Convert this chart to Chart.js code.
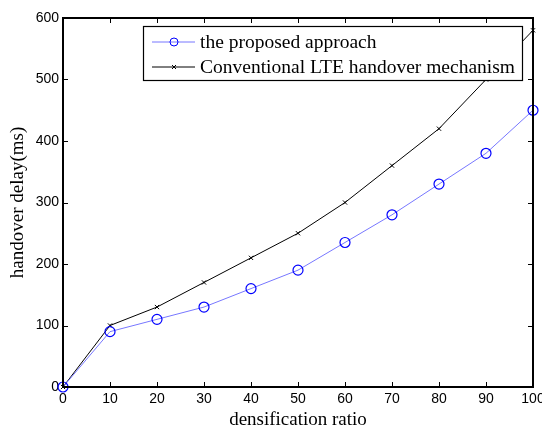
<!DOCTYPE html>
<html>
<head>
<meta charset="utf-8">
<script src="https://cdn.jsdelivr.net/npm/chart.js@4/dist/chart.umd.min.js"></script>
<style>
  body { margin: 0; background: #fff; }
  #wrap { width: 542px; height: 430px; }
</style>
</head>
<body>
<div id="wrap"><canvas id="chart" width="542" height="430"></canvas></div>
<script>
const ratios = [0, 10, 20, 30, 40, 50, 60, 70, 80, 90, 100];
const proposed = [0, 90, 110, 130, 160, 190, 235, 280, 330, 380, 450];
const conventional = [0, 100, 130, 170, 210, 250, 300, 360, 420, 500, 580];
const seriesNames = ['the proposed approach', 'Conventional LTE handover mechanism'];

// matlab-ish box, inward ticks and legend
const boxPlugin = {
    id: 'box',
    afterDraw(chart) {
        const ctx = chart.ctx;
        const a = chart.chartArea;
        const xs = chart.scales.x, ys = chart.scales.y;
        ctx.save();
        ctx.strokeStyle = '#000';
        ctx.lineWidth = 1;
        ctx.beginPath();
        xs.ticks.forEach(t => {
            const x = Math.round(xs.getPixelForValue(t.value)) + 0.5;
            ctx.moveTo(x, a.bottom); ctx.lineTo(x, a.bottom - 5);
            ctx.moveTo(x, a.top); ctx.lineTo(x, a.top + 5);
        });
        ys.ticks.forEach(t => {
            const y = Math.round(ys.getPixelForValue(t.value)) + 0.5;
            ctx.moveTo(a.left, y); ctx.lineTo(a.left + 5, y);
            ctx.moveTo(a.right, y); ctx.lineTo(a.right - 5, y);
        });
        ctx.stroke();
        ctx.lineWidth = 2;
        ctx.strokeRect(a.left, a.top, a.right - a.left, a.bottom - a.top);

        // legend
        const lx = 143, ly = 26, lw = 379, lh = 54;
        ctx.fillStyle = '#fff';
        ctx.fillRect(lx, ly, lw, lh);
        ctx.lineWidth = 1.2;
        ctx.strokeRect(lx + 0.5, ly + 0.5, lw, lh);
        ctx.font = '19.5px "Liberation Serif", "Times New Roman", serif';
        ctx.textBaseline = 'middle';
        chart.data.datasets.forEach((ds, i) => {
            const y = ly + 16 + i * 25;
            ctx.strokeStyle = ds.borderColor;
            ctx.lineWidth = 1;
            ctx.beginPath();
            ctx.moveTo(152, y); ctx.lineTo(195, y);
            ctx.stroke();
            ctx.strokeStyle = ds.pointBorderColor;
            ctx.beginPath();
            if (i === 0) {
                ctx.arc(174, y, 4, 0, Math.PI * 2);
            } else {
                ctx.moveTo(172, y - 2); ctx.lineTo(176, y + 2);
                ctx.moveTo(172, y + 2); ctx.lineTo(176, y - 2);
            }
            ctx.stroke();
            ctx.fillStyle = '#000';
            ctx.fillText(ds.label, 200, y + 1);
        });
        ctx.restore();
    }
};

const ctx = document.getElementById('chart').getContext('2d');
const chart = new Chart(ctx, {
    type: 'line',
    data: {
        datasets: [
            {
                label: seriesNames[0],
                data: ratios.map((r, i) => ({ x: r, y: proposed[i] })),
                borderColor: '#7777ff',
                borderWidth: 1,
                pointStyle: 'circle',
                pointRadius: 5,
                pointBorderColor: '#0000ff',
                pointBackgroundColor: 'rgba(0,0,0,0)',
                pointBorderWidth: 1.2,
                tension: 0
            },
            {
                label: seriesNames[1],
                data: ratios.map((r, i) => ({ x: r, y: conventional[i] })),
                borderColor: '#000',
                borderWidth: 1,
                pointStyle: 'crossRot',
                pointRadius: 3,
                pointBorderColor: '#000',
                pointBorderWidth: 1,
                tension: 0
            }
        ]
    },
    options: {
        responsive: false,
        animation: false,
        clip: false,
        layout: { padding: { left: 0, right: 9, top: 18, bottom: 0 } },
        plugins: { legend: { display: false }, tooltip: { enabled: false } },
        scales: {
            x: {
                type: 'linear', min: 0, max: 100,
                grid: { display: false, drawTicks: false },
                border: { display: false },
                ticks: { stepSize: 10, color: '#000', padding: 4, maxRotation: 0,
                    font: { family: '"Liberation Sans", Arial, sans-serif', size: 14 } },
                title: { display: true, text: 'densification ratio', color: '#000', padding: { top: 0, bottom: 0 },
                    font: { family: '"Liberation Serif", "Times New Roman", serif', size: 19, lineHeight: 1 } },
                afterFit(s) { s.height = 43; s.paddingLeft = 0; s.paddingRight = 0; }
            },
            y: {
                type: 'linear', min: 0, max: 600,
                grid: { display: false, drawTicks: false },
                border: { display: false },
                ticks: { stepSize: 100, color: '#000', padding: 4,
                    font: { family: '"Liberation Sans", Arial, sans-serif', size: 14 } },
                title: { display: true, text: 'handover delay(ms)', color: '#000', padding: { top: 7, bottom: 0 },
                    font: { family: '"Liberation Serif", "Times New Roman", serif', size: 19, lineHeight: 1.2 } },
                afterFit(s) { s.width = 63; s.paddingTop = 0; s.paddingBottom = 0; }
            }
        }
    },
    plugins: [boxPlugin]
});
</script>
</body>
</html>
